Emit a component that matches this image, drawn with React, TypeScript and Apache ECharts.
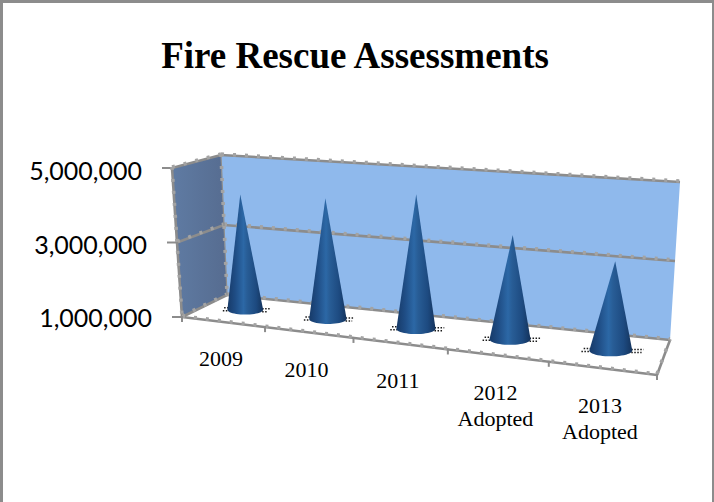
import React, { useEffect, useRef } from "react";
import * as echarts from "echarts";

const titleText = "Fire Rescue Assessments";
const categories = ["2009", "2010", "2011", "2012\nAdopted", "2013\nAdopted"];
const assessments = [4160000, 4240000, 4530000, 3670000, 3230000];
const valueMin = 1000000;
const valueMax = 5000000;
const valueStep = 2000000;
const valueTicks = [1000000, 3000000, 5000000];

// Corners of the 3D plot box, in page pixels.
type Pt = [number, number];
const FBL: Pt = [182, 317];
const FBR: Pt = [657, 375];
const BBL: Pt = [227, 295];
const BBR: Pt = [670, 340];
const FTL: Pt = [172, 168];
const FTR: Pt = [667, 208];
const BTL: Pt = [221, 155];
const BTR: Pt = [680, 182];
const CONE_DEPTH = 0.53;

const lerp = (a: Pt, b: Pt, t: number): Pt => [a[0] + (b[0] - a[0]) * t, a[1] + (b[1] - a[1]) * t];
// Foreshortening along the category direction.
const warp = (u: number) => u / (1 + 0.18 * (1 - u));

function project(u: number, depth: number, v: number): Pt {
  const f = warp(u);
  const bottom = lerp(lerp(FBL, FBR, f), lerp(BBL, BBR, f), depth);
  const top = lerp(lerp(FTL, FTR, f), lerp(BTL, BTR, f), depth);
  return lerp(bottom, top, v);
}

const EDGE = "#8c8c8c";
const SPECK = "#a3a3a3";

function edge(a: Pt, b: Pt, width = 2.6) {
  return [
    {
      type: "line",
      shape: { x1: a[0], y1: a[1], x2: b[0], y2: b[1] },
      style: { stroke: EDGE, lineWidth: width },
    },
    {
      type: "line",
      shape: { x1: a[0], y1: a[1] - 1, x2: b[0], y2: b[1] - 1 },
      style: { stroke: SPECK, lineWidth: 3.6, lineDash: [3, 9] },
    },
  ];
}

// Normalised position inside the cartesian rectangle.
function toUnit(params: any, p: number[]): [number, number] {
  const r = params.coordSys;
  return [(p[0] - r.x) / r.width, (r.y + r.height - p[1]) / r.height];
}

function renderBox(params: any, api: any) {
  const poly = (pts: Pt[], fill: any) => ({
    type: "polygon",
    shape: { points: pts },
    style: { fill },
  });
  const children: any[] = [
    poly([FBL, FBR, BBR, BBL], "#ffffff"),
    poly(
      [FTL, BTL, BBL, FBL],
      new echarts.graphic.LinearGradient(0, 0, 1, 0, [
        { offset: 0, color: "#5f7ba3" },
        { offset: 1, color: "#566c90" },
      ]),
    ),
    poly([BTL, BTR, BBR, BBL], "#8fb9ec"),
  ];
  valueTicks.forEach((val) => {
    const [, v] = toUnit(params, api.coord([0, val]));
    const front = project(0, 0, v);
    const corner = project(0, 1, v);
    const right = project(1, 1, v);
    children.push(...edge(front, corner), ...edge(corner, right));
    children.push({
      type: "line",
      shape: { x1: front[0] - 10, y1: front[1], x2: front[0], y2: front[1] },
      style: { stroke: EDGE, lineWidth: 2 },
    });
  });
  children.push(...edge(FTL, FBL), ...edge(BTL, BBL, 1.2), ...edge(FBL, FBR), ...edge(FBR, BBR));
  for (let i = 0; i <= categories.length; i++) {
    const p = project(i / categories.length, 0, 0);
    children.push({
      type: "line",
      shape: { x1: p[0], y1: p[1] - 1, x2: p[0], y2: p[1] + 5 },
      style: { stroke: EDGE, lineWidth: 2 },
    });
  }
  return { type: "group", children };
}

function renderCone(params: any, api: any) {
  const cat = api.value(0);
  const [u, v] = toUnit(params, api.coord([cat, api.value(1)]));
  const base = project(u, CONE_DEPTH, 0);
  const tip = project(u, CONE_DEPTH, v);
  const rx = 17.5 + 4.5 * warp(u);
  const ry = rx * 0.27;
  const outline: Pt[] = [tip];
  for (let a = 0; a <= 24; a++) {
    const t = (a / 24) * Math.PI;
    outline.push([base[0] + rx * Math.cos(t), base[1] + ry * Math.sin(t)]);
  }
  // Small dotted smudges either side of the cone's foot.
  const dots = (x1: number, x2: number, y: number) => ({
    type: "line",
    shape: { x1, y1: y, x2, y2: y },
    style: { stroke: "#1a1a1a", lineWidth: 1.5, lineDash: [1.5, 1.5] },
  });
  const spread = 6 + 6 * warp(u);
  return {
    type: "group",
    children: [
      dots(base[0] + rx - 1, base[0] + rx + spread, base[1] - 1),
      dots(base[0] + rx - 1, base[0] + rx + spread - 2, base[1] + 2),
      dots(base[0] - rx - spread * 0.5, base[0] - rx + 1, base[1] - 2),
      dots(base[0] - rx - spread * 0.7, base[0] - rx + 1, base[1] + 1),
      {
        type: "polygon",
        shape: { points: outline },
        style: {
          fill: new echarts.graphic.LinearGradient(0, 0, 1, 0, [
            { offset: 0, color: "#173a68" },
            { offset: 0.22, color: "#1f4d85" },
            { offset: 0.45, color: "#2c68a6" },
            { offset: 0.55, color: "#285d96" },
            { offset: 0.8, color: "#1d4a80" },
            { offset: 1, color: "#14335c" },
          ]),
        },
      },
    ],
  };
}

function renderLabel(params: any, api: any) {
  const cat = api.value(0);
  const [u] = toUnit(params, api.coord([cat, valueMin]));
  const p = project(u, 0, 0);
  return {
    type: "text",
    x: p[0] - 2,
    y: p[1] + 24,
    style: {
      text: categories[cat],
      fill: "#000000",
      font: '22px "Liberation Serif"',
      align: "center",
      verticalAlign: "top",
      lineHeight: 26,
    },
  };
}

export default function App() {
  const ref = useRef<HTMLDivElement>(null);
  useEffect(() => {
    const chart = echarts.init(ref.current!, undefined, { renderer: "svg" });
    const coneData = assessments.map((val, i) => [i, val]);
    const labelFont = { fontFamily: "Lato", fontSize: 25, color: "#000000" };
    chart.setOption({
      animation: false,
      backgroundColor: "#ffffff",
      title: {
        text: titleText,
        left: 350,
        top: 32,
        textAlign: "center",
        textStyle: {
          fontFamily: "Liberation Serif",
          fontWeight: "bold",
          fontSize: 37,
          color: "#000000",
        },
      },
      graphic: [
        { type: "rect", shape: { x: 0, y: 0, width: 714, height: 3 }, style: { fill: "#8c8c8c" } },
        { type: "rect", shape: { x: 0, y: 0, width: 3, height: 502 }, style: { fill: "#8c8c8c" } },
        { type: "rect", shape: { x: 712, y: 0, width: 2, height: 502 }, style: { fill: "#8c8c8c" } },
      ],
      grid: { left: 172, top: 170, width: 485, height: 147 },
      xAxis: {
        type: "category",
        data: categories,
        axisLine: { show: false },
        axisTick: { show: false },
        axisLabel: { show: false },
      },
      yAxis: {
        type: "value",
        min: valueMin,
        max: valueMax,
        interval: valueStep,
        axisLine: { show: false },
        axisTick: { show: false },
        splitLine: { show: false },
        axisLabel: {
          margin: 20,
          ...labelFont,
          // The labels step leftwards with the slanted front edge of the box.
          formatter: (val: number) =>
            `{v${val / valueStep - 0.5}|${val.toLocaleString("en-US")}}`,
          rich: {
            v0: { ...labelFont },
            v1: { ...labelFont, padding: [0, 5, 0, 0] },
            v2: { ...labelFont, padding: [0, 10, 0, 0] },
          },
        },
      },
      series: [
        { type: "custom", z: 1, silent: true, renderItem: renderBox, data: [[0, valueMin]] },
        { type: "custom", z: 2, silent: true, renderItem: renderCone, data: coneData },
        { type: "custom", z: 3, silent: true, renderItem: renderLabel, data: coneData },
      ],
    });
    return () => chart.dispose();
  }, []);
  return (
    <div
      ref={ref}
      style={{ position: "absolute", left: 0, top: 0, width: 714, height: 502 }}
    />
  );
}
